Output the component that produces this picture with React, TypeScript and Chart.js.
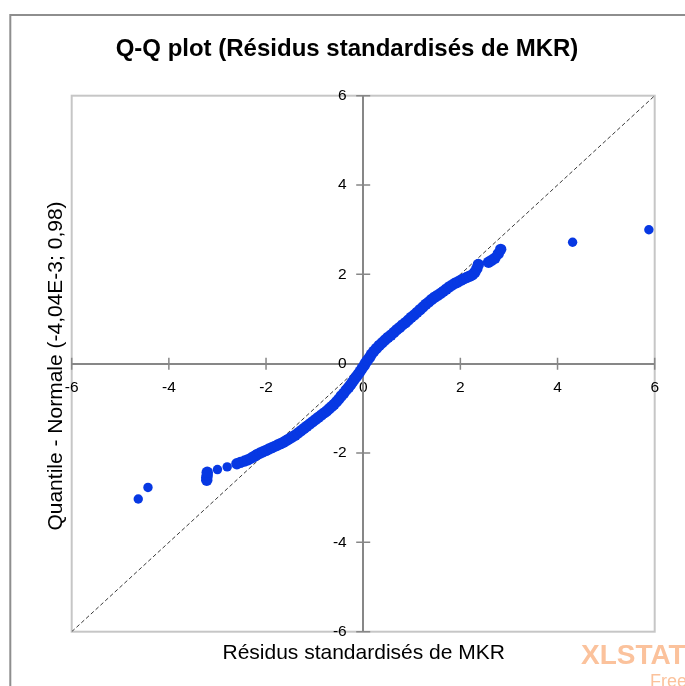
import React, { useEffect, useRef } from 'react';
import { Chart, registerables } from 'chart.js';
Chart.register(...registerables);

// Sorted standardized residuals (x) and matching normal quantiles (y)
const residuals = [
  -4.63, -4.43, -3.22, -3.22, -3.21, -3.21, -3.0, -2.8, -2.6, -2.53, -2.44, -2.37, -2.3, -2.24, -2.18, -2.12,
  -2.06, -2.0, -1.94, -1.88, -1.82, -1.76, -1.7, -1.64, -1.58, -1.52, -1.46, -1.4, -1.34, -1.28, -1.22, -1.16,
  -1.1, -1.04, -0.98, -0.92, -0.86, -0.8, -0.75, -0.7, -0.65, -0.6, -0.55, -0.5, -0.45, -0.4, -0.35, -0.3,
  -0.26, -0.22, -0.18, -0.14, -0.1, -0.06, -0.02, 0.02, 0.05, 0.09, 0.13, 0.17, 0.22, 0.27, 0.33, 0.39,
  0.45, 0.51, 0.57, 0.63, 0.69, 0.75, 0.81, 0.87, 0.93, 0.99, 1.05, 1.11, 1.17, 1.23, 1.29, 1.35,
  1.41, 1.47, 1.53, 1.59, 1.65, 1.71, 1.77, 1.83, 1.89, 1.95, 2.01, 2.07, 2.13, 2.19, 2.25, 2.3,
  2.34, 2.37, 2.58, 2.64, 2.71, 2.78, 2.83, 4.31, 5.88,
];
const quantiles = [
  -3.03, -2.77, -2.61, -2.55, -2.49, -2.43, -2.37, -2.31, -2.24, -2.21, -2.18, -2.15, -2.11, -2.07, -2.03, -2.0,
  -1.97, -1.94, -1.91, -1.88, -1.85, -1.82, -1.79, -1.76, -1.72, -1.68, -1.64, -1.6, -1.55, -1.5, -1.45, -1.4,
  -1.35, -1.3, -1.25, -1.2, -1.15, -1.1, -1.06, -1.01, -0.96, -0.91, -0.85, -0.79, -0.72, -0.66, -0.59, -0.53,
  -0.47, -0.41, -0.35, -0.29, -0.23, -0.17, -0.1, -0.04, 0.02, 0.08, 0.14, 0.21, 0.28, 0.34, 0.41, 0.47,
  0.53, 0.59, 0.64, 0.7, 0.76, 0.81, 0.87, 0.92, 0.98, 1.04, 1.09, 1.15, 1.21, 1.27, 1.33, 1.38,
  1.44, 1.49, 1.53, 1.57, 1.62, 1.67, 1.72, 1.76, 1.8, 1.83, 1.87, 1.9, 1.93, 1.96, 1.99, 2.05,
  2.13, 2.22, 2.27, 2.31, 2.36, 2.46, 2.56, 2.72, 3.0,
];
const diagonalEnds = [-6, 6];
const tickValues = [-6, -4, -2, 0, 2, 4, 6];
const chartTitle = 'Q-Q plot (Résidus standardisés de MKR)';
const xAxisTitle = 'Résidus standardisés de MKR';
const yAxisTitle = 'Quantile - Normale (-4,04E-3; 0,98)';

const FONT = '"Liberation Sans", Arial, sans-serif';
const AXIS_GRAY = '#878787';
const TICK_SIZE = 15.5;

export default function App() {
  const ref = useRef<HTMLCanvasElement>(null);

  useEffect(() => {
    const canvas = ref.current;
    if (!canvas) return;

    const decor = {
      id: 'decor',
      beforeDraw(chart: any) {
        const ctx = chart.ctx;
        ctx.save();
        ctx.fillStyle = '#ffffff';
        ctx.fillRect(0, 0, chart.width, chart.height);
        // outer chart frame
        ctx.strokeStyle = '#8e8e8e';
        ctx.lineWidth = 2;
        ctx.beginPath();
        ctx.moveTo(10.3, chart.height + 2);
        ctx.lineTo(10.3, 15);
        ctx.lineTo(chart.width + 2, 15);
        ctx.stroke();
        // plot area box
        const a = chart.chartArea;
        ctx.strokeStyle = '#c6c6c6';
        ctx.lineWidth = 2;
        ctx.strokeRect(a.left, a.top, a.right - a.left, a.bottom - a.top);
        ctx.restore();
      },
      beforeDatasetsDraw(chart: any) {
        const ctx = chart.ctx;
        const xs = chart.scales.x;
        const ys = chart.scales.y;
        const x0 = xs.getPixelForValue(0);
        const y0 = ys.getPixelForValue(0);
        ctx.save();
        ctx.strokeStyle = AXIS_GRAY;
        ctx.lineWidth = 1.5;
        ctx.beginPath();
        tickValues.forEach((v) => {
          const px = xs.getPixelForValue(v);
          ctx.moveTo(px, y0 - 6);
          ctx.lineTo(px, y0 + 6);
          const py = ys.getPixelForValue(v);
          ctx.moveTo(x0 - 7, py);
          ctx.lineTo(x0 + 7, py);
        });
        ctx.stroke();
        ctx.restore();
      },
      afterDraw(chart: any) {
        const ctx = chart.ctx;
        const a = chart.chartArea;
        const xs = chart.scales.x;
        const ys = chart.scales.y;
        const x0 = xs.getPixelForValue(0);
        ctx.save();
        ctx.fillStyle = '#000';
        // y tick labels, left of the vertical axis
        ctx.font = `${TICK_SIZE}px ${FONT}`;
        ctx.textAlign = 'right';
        ctx.textBaseline = 'middle';
        tickValues.forEach((v) => {
          ctx.fillText(String(v), x0 - 16.5, ys.getPixelForValue(v));
        });
        // chart title
        ctx.textBaseline = 'alphabetic';
        ctx.textAlign = 'center';
        ctx.font = `bold 24px ${FONT}`;
        ctx.fillText(chartTitle, 347, 56);
        // x axis title
        ctx.font = `21px ${FONT}`;
        ctx.fillText(xAxisTitle, (a.left + a.right) / 2 + 0.5, 659);
        // y axis title
        ctx.save();
        ctx.translate(62.3, 366);
        ctx.rotate(-Math.PI / 2);
        ctx.fillText(yAxisTitle, 0, 0);
        ctx.restore();
        // watermark
        ctx.textAlign = 'left';
        ctx.fillStyle = '#fbc29c';
        ctx.font = `bold 28px ${FONT}`;
        ctx.fillText('XLSTAT', 581, 664);
        ctx.font = `18px ${FONT}`;
        ctx.fillText('Free', 650, 687);
        ctx.restore();
      },
    };

    const points = residuals.map((r, i) => ({ x: r, y: quantiles[i] }));
    const diagonal = diagonalEnds.map((v) => ({ x: v, y: v }));

    // isolated markers look smaller than the overlapping band of markers
    const radiusFor = (ctx: any) => {
      const i = ctx.dataIndex;
      const near = (j: number) =>
        j >= 0 && j < residuals.length &&
        Math.hypot(residuals[j] - residuals[i], quantiles[j] - quantiles[i]) < 0.12;
      return near(i - 1) || near(i + 1) ? 5.7 : 4.7;
    };

    const chart = new Chart(canvas, {
      type: 'scatter',
      data: {
        datasets: [
          {
            label: 'Q-Q',
            data: points,
            backgroundColor: '#0738e3',
            borderColor: '#0738e3',
            borderWidth: 0,
            pointRadius: radiusFor,
            pointHoverRadius: radiusFor,
            order: 1,
          } as any,
          {
            label: 'y = x',
            data: diagonal,
            type: 'line',
            showLine: true,
            borderColor: '#3a3a3a',
            borderWidth: 1,
            borderDash: [4, 2.5],
            pointRadius: 0,
            fill: false,
            order: 2,
          } as any,
        ],
      },
      options: {
        responsive: false,
        animation: false,
        layout: { padding: { left: 71.7, top: 95.7, right: 30.3, bottom: 54.3 } },
        plugins: {
          legend: { display: false },
          tooltip: { enabled: false },
          title: { display: false },
        },
        scales: {
          x: {
            type: 'linear',
            min: -6,
            max: 6,
            position: { y: 0 } as any,
            grid: { drawOnChartArea: false, drawTicks: false },
            border: { display: true, color: AXIS_GRAY, width: 2 },
            ticks: {
              stepSize: 2,
              padding: 15,
              color: '#000',
              font: { family: FONT, size: TICK_SIZE },
              maxRotation: 0,
              autoSkip: false,
            },
          },
          y: {
            type: 'linear',
            min: -6,
            max: 6,
            position: { x: 0 } as any,
            grid: { drawOnChartArea: false, drawTicks: false },
            border: { display: true, color: AXIS_GRAY, width: 2 },
            ticks: { stepSize: 2, display: false },
          },
        },
      },
      plugins: [decor],
    });

    return () => chart.destroy();
  }, []);

  return (
    <div style={{ position: 'fixed', left: 0, top: 0, width: 685, height: 686, background: '#fff' }}>
      <canvas ref={ref} width={685} height={686} style={{ display: 'block' }} />
    </div>
  );
}
